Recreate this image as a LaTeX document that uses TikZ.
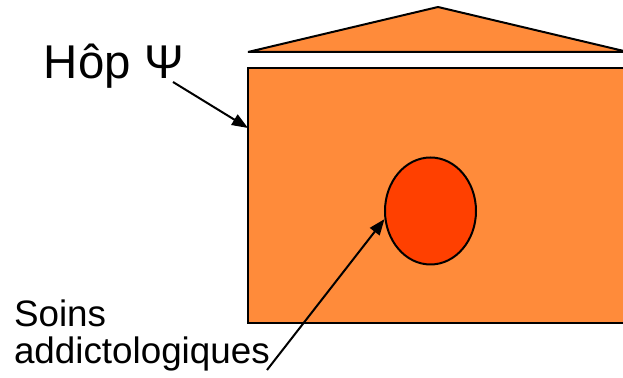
\documentclass[tikz,border=0pt]{standalone}
\usepackage{fontspec}
\setmainfont{Liberation Sans}
\usetikzlibrary{arrows.meta}
\usetikzlibrary{shapes.geometric}
\usetikzlibrary{positioning}

\definecolor{hoporange}{RGB}{255,139,58}
\definecolor{soinsrouge}{RGB}{255,64,0}

\begin{document}
\begin{tikzpicture}[
        x=0.5pt, y=-0.5pt,
        line width=1pt,
        % Style du batiment (toit + corps)
        wallbox/.style={rectangle, draw, fill=hoporange, minimum width=190pt, minimum height=127.5pt, inner sep=0pt},
        roofpart/.style={draw, fill=hoporange, line join=bevel},
        % Style de l'ellipse centrale
        carebox/.style={ellipse, draw, fill=soinsrouge, minimum width=45.5pt, minimum height=53.5pt, inner sep=0pt},
        % Style des etiquettes
        labeltext/.style={inner sep=0pt, align=left},
        pointer/.style={-{Triangle[length=8pt, width=6pt]}}
    ]

    \useasboundingbox (0,0) rectangle (623,378);
    \clip (0,0) rectangle (623,378);

    % --- 1. BATIMENT ---
    \node[wallbox] (Hopital) at (438, 195.5) {};
    \draw[roofpart] (248, 52) -- (438, 7) -- (628, 52) -- cycle;

    % Ellipse au centre
    \node[carebox] (Soins) at (430.5, 211) {};

    % --- 2. ETIQUETTES ---
    \node[labeltext, anchor=base west, font=\fontsize{23.7}{28}\selectfont] (HopLabel) at (43, 79) {Hôp Ψ};
    \node[labeltext, anchor=south west, font=\fontsize{18.4}{18.5}\selectfont] (SoinsLabel) at (13, 372) {Soins\\addictologiques};

    % --- 3. FLECHES ---
    \coordinate (HopStart) at (173, 82);
    \coordinate (HopEnd) at (248, 128);
    \coordinate (SoinsStart) at (267, 370);
    \draw[pointer] (HopStart) -- (HopEnd);
    \draw[pointer] (SoinsStart) -- (Soins.190);

\end{tikzpicture}
\end{document}
